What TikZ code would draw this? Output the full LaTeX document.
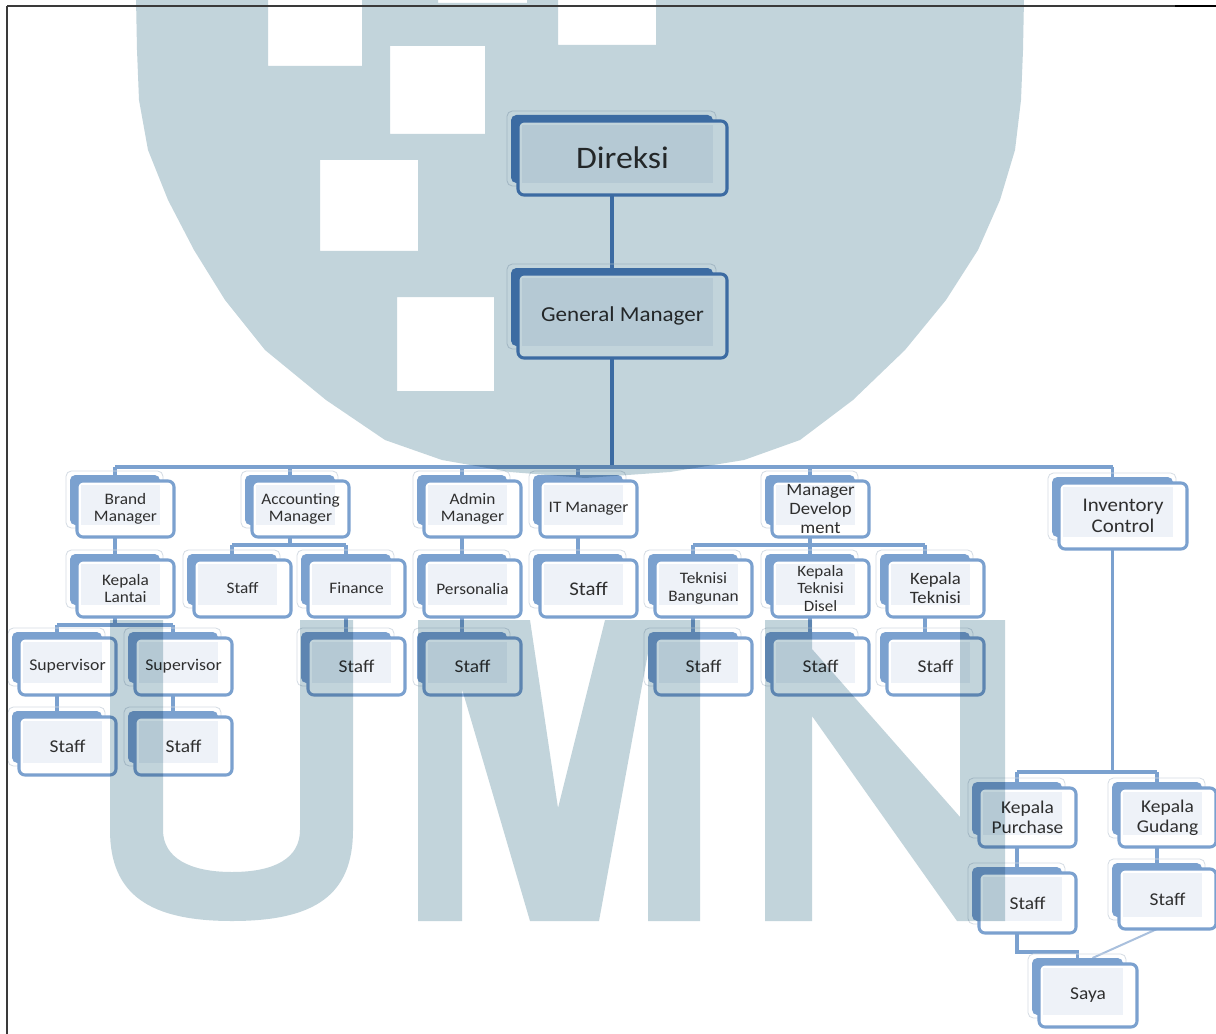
\documentclass[tikz,border=0pt]{standalone}
\usepackage{fontspec}
\setmainfont{Carlito}[FakeStretch=1.08]
\usetikzlibrary{calc}
\pgfdeclarelayer{bg}
\pgfdeclarelayer{fg}
\pgfsetlayers{bg,main,fg}
\definecolor{nodeblue}{HTML}{7BA1CF}
\definecolor{darkblue}{HTML}{4F81BD}
\definecolor{innerfill}{HTML}{EEF2F8}
\definecolor{outlcol}{HTML}{D5DCE4}
\definecolor{wmcol}{HTML}{C2D4DB}
\definecolor{txtcol}{HTML}{2F2F2F}
\definecolor{thinline}{HTML}{A9C0DD}
\definecolor{framecol}{HTML}{3A3A3A}
\newcommand\lsize[1]{\fontsize{#1}{\dimexpr#1pt*11/10\relax}\selectfont}
\tikzset{
  outlinebox/.style={draw=outlcol, line width=0.6pt, rounded corners=4pt},
  backbox/.style={fill=#1, draw=none, rounded corners=4pt, inner sep=0pt, outer sep=0pt},
  frontbox/.style={fill=white, draw=#1, line width=2.3pt, rounded corners=4.5pt, inner sep=0pt, outer sep=0pt},
  labeltext/.style={text=txtcol, align=center, inner sep=0pt},
  mainconn/.style={draw=darkblue, line width=2.8pt},
  subconn/.style={draw=nodeblue, line width=2.6pt},
  thinconn/.style={draw=thinline, line width=1.5pt},
  framestyle/.style={draw=framecol, line width=1.1pt},
  watermark/.style={fill=wmcol, blend mode=multiply},
}
% #1 colour, #2 name, #3 bx, #4 by, #5 w, #6 h, #7 font size, #8 text
\newcommand\orgbox[8][nodeblue]{%
  \draw[outlinebox] (#3-4,#4-4) rectangle (#3+#5+3,#4+#6+3);
  \node[backbox=#1, anchor=north west, minimum width={#5*0.75pt}, minimum height={#6*0.75pt}] (#2) at (#3,#4) {};
  \node[frontbox=#1, anchor=north west, minimum width={(#5+7)*0.75pt}, minimum height={(#6+6)*0.75pt}] (#2-f) at (#3+7,#4+6) {};
  \fill[innerfill] ($(#2-f.north west)+(4,4)$) rectangle ($(#2-f.south east)+(-14,-12)$);
  \node[labeltext, font=\lsize{#7}] (#2-t) at (#2-f.center) {#8};
}
\begin{document}
\begin{tikzpicture}[x=0.75pt, y=-0.75pt]
\useasboundingbox (0,0) rectangle (1216,1034);
\begin{pgfonlayer}{bg}
\fill[white] (0,0) rectangle (1216,1034);
\end{pgfonlayer}

% ---------- boxes ----------
\orgbox[darkblue]{dir}{511}{115}{202}{68}{23.5}{Direksi}
\orgbox[darkblue]{gm}{511}{268}{202}{78}{16}{General Manager}

\orgbox{brand}{70}{475}{90}{50}{12}{Brand\\Manager}
\orgbox{acc}{245}{475}{90}{50}{12}{Accounting\\Manager}
\orgbox{adm}{417}{475}{90}{50}{12}{Admin\\Manager}
\orgbox{itm}{533}{475}{90}{50}{12}{IT Manager}
\orgbox{mdev}{765}{475}{90}{50}{13}{Manager\\Develop\\ment}
\orgbox{inv}{1052}{477}{121}{60}{14.5}{Inventory\\Control}

\orgbox{kl}{70}{554}{90}{51}{12}{Kepala\\Lantai}
\orgbox{accst}{187}{554}{90}{51}{12}{Staff}
\orgbox{fin}{301}{554}{90}{51}{12}{Finance}
\orgbox{pers}{417}{554}{90}{51}{12}{Personalia}
\orgbox{itst}{533}{554}{90}{51}{14.5}{Staff}
\orgbox{tb}{648}{554}{90}{51}{12}{Teknisi\\Bangunan}
\orgbox{ktd}{765}{554}{90}{51}{11.8}{Kepala\\Teknisi\\Disel}
\orgbox{kt}{880}{554}{90}{51}{13}{Kepala\\Teknisi}

\orgbox{supa}{12}{632}{90}{51}{12.3}{Supervisor}
\orgbox{supb}{128}{632}{90}{51}{12.3}{Supervisor}
\orgbox{finst}{301}{632}{90}{51}{13.5}{Staff}
\orgbox{admst}{417}{632}{90}{51}{13.5}{Staff}
\orgbox{tbst}{648}{632}{90}{51}{13.5}{Staff}
\orgbox{ktdst}{765}{632}{90}{51}{13.5}{Staff}
\orgbox{ktst}{880}{632}{90}{51}{13.5}{Staff}

\orgbox{sta}{12}{711}{90}{52}{13.5}{Staff}
\orgbox{stb}{128}{711}{90}{52}{13.5}{Staff}

\orgbox{kp}{972}{782}{90}{53}{13.5}{Kepala\\Purchase}
\orgbox{kg}{1112}{782}{90}{53}{13.5}{Kepala\\Gudang}
\orgbox{stp}{972}{867}{90}{54}{13.5}{Staff}
\orgbox{stg}{1112}{863}{90}{54}{13.5}{Staff}
\orgbox{saya}{1032}{958}{91}{57}{13.5}{Saya}

% ---------- connectors (behind the boxes) ----------
\begin{pgfonlayer}{bg}
\coordinate (busA) at (0,467);
\coordinate (busB) at (0,545);
\coordinate (busC) at (0,625);
\coordinate (busD) at (0,772);
\coordinate (busE) at (0,952);
\draw[mainconn] (dir.south) -- (gm.north);
\draw[mainconn] (gm.south) -- (gm.south |- busA);
\draw[subconn] (brand.north |- busA) -- (inv.north |- busA);
\foreach \n in {brand,acc,adm,itm,mdev,inv}
  \draw[subconn] (\n.north |- busA) -- (\n.north);
% brand branch
\draw[subconn] (brand.south) -- (kl.north);
\draw[subconn] (kl.south) -- (kl.south |- busC);
\draw[subconn] (supa.north |- busC) -- (supb.north |- busC);
\draw[subconn] (supa.north |- busC) -- (supa.north);
\draw[subconn] (supb.north |- busC) -- (supb.north);
\draw[subconn] (supa.south) -- (sta.north);
\draw[subconn] (supb.south) -- (stb.north);
% accounting branch
\draw[subconn] (acc.south) -- (acc.south |- busB);
\draw[subconn] (accst.north |- busB) -- (fin.north |- busB);
\draw[subconn] (accst.north |- busB) -- (accst.north);
\draw[subconn] (fin.north |- busB) -- (fin.north);
\draw[subconn] (fin.south) -- (finst.north);
% admin and IT
\draw[subconn] (adm.south) -- (pers.north);
\draw[subconn] (pers.south) -- (admst.north);
\draw[subconn] (itm.south) -- (itst.north);
% development branch
\draw[subconn] (mdev.south) -- (mdev.south |- busB);
\draw[subconn] (tb.north |- busB) -- (kt.north |- busB);
\foreach \n in {tb,ktd,kt}
  \draw[subconn] (\n.north |- busB) -- (\n.north);
\draw[subconn] (tb.south) -- (tbst.north);
\draw[subconn] (ktd.south) -- (ktdst.north);
\draw[subconn] (kt.south) -- (ktst.north);
% inventory branch
\draw[subconn] (inv.south) -- (inv.south |- busD);
\draw[subconn] (kp.north |- busD) -- (kg.north |- busD);
\draw[subconn] (kp.north |- busD) -- (kp.north);
\draw[subconn] (kg.north |- busD) -- (kg.north);
\draw[subconn] (kp.south) -- (stp.north);
\draw[subconn] (kg.south) -- (stg.north);
\draw[subconn] (stp.south) -- (stp.south |- busE) -- (saya.north |- busE) -- (saya.north);
\draw[thinconn] (stg.south |- stg-f.south) -- ($(saya.north)+(15,0)$);
\end{pgfonlayer}

% ---------- watermark (multiplied over the chart) ----------
\begin{pgfonlayer}{fg}
\begin{scope}[watermark]
\fill[even odd rule] (136,-2) -- (137,50) -- (139,100) -- (148,150) -- (168,200) -- (194,250) -- (225,300) -- (265,350) -- (326,400) -- (385,440) -- (442,460) -- (510,472) -- (585,478) -- (670,472) -- (744,460) -- (800,440) -- (853,400) -- (905,350) -- (946,300) -- (978,250) -- (1000,200) -- (1015,150) -- (1021,100) -- (1023,50) -- (1024,-2) -- cycle
  (268,-2) rectangle (362,66)
  (438,-2) rectangle (527,3)
  (558,-2) rectangle (656,45)
  (390,46) rectangle (485,134)
  (320,160) rectangle (418,251)
  (397,297) rectangle (494,391);
% U
\fill (110,620) -- (110,830) .. controls (110,895) and (150,921) .. (232,921) .. controls (315,921) and (353,895) .. (353,830) -- (353,620) -- (300,620) -- (300,830) .. controls (300,858) and (275,872) .. (232,872) .. controls (190,872) and (163,858) .. (163,830) -- (163,620) -- cycle;
% M
\fill (418,921) -- (418,620) -- (530,620) -- (558,808) -- (605,620) -- (700,620) -- (700,921) -- (648,921) -- (648,653) -- (599,921) -- (530,921) -- (462,689) -- (462,921) -- cycle;
% N
\fill (765,921) -- (765,620) -- (812,620) -- (812,649) -- (960,817) -- (960,620) -- (1005,620) -- (1005,921) -- (957,921) -- (812,716) -- (812,921) -- cycle;
\end{scope}
% page frame
\draw[framestyle] (7,6) -- (1216,6);
\draw[framestyle] (7,6) -- (7,1034);
\draw[draw=black, line width=2pt] (1175,6) -- (1216,6);
\end{pgfonlayer}
\end{tikzpicture}
\end{document}
